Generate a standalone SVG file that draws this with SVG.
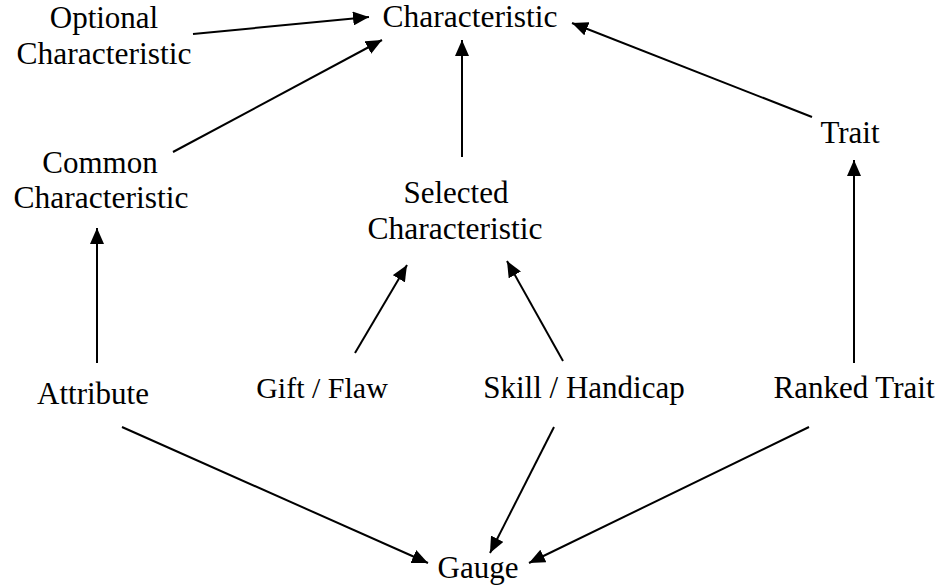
<svg xmlns="http://www.w3.org/2000/svg" width="942" height="586" viewBox="0 0 942 586">
<style>
.c line{stroke:#000;stroke-width:2;fill:none}
</style>
<defs>
<marker id="ah" viewBox="0 0 16 14" refX="16" refY="7" markerWidth="16" markerHeight="14" markerUnits="userSpaceOnUse" orient="auto">
<path d="M0,0 L16,7 L0,14 Z" fill="#000"/>
</marker>
</defs>
<rect width="942" height="586" fill="#fff"/>
<g id="characteristic"><text x="470" y="27" font-family="Liberation Serif" font-size="31.5" text-anchor="middle" fill="#000">Characteristic</text></g>
<g id="optional"><text x="104" y="28" font-family="Liberation Serif" font-size="31" text-anchor="middle" fill="#000">Optional</text><text x="104" y="64" font-family="Liberation Serif" font-size="31.5" text-anchor="middle" fill="#000">Characteristic</text></g>
<g id="common"><text x="100" y="173" font-family="Liberation Serif" font-size="31" text-anchor="middle" fill="#000">Common</text><text x="101" y="208" font-family="Liberation Serif" font-size="31.5" text-anchor="middle" fill="#000">Characteristic</text></g>
<g id="selected"><text x="456" y="203" font-family="Liberation Serif" font-size="31" text-anchor="middle" fill="#000">Selected</text><text x="455" y="239" font-family="Liberation Serif" font-size="31.5" text-anchor="middle" fill="#000">Characteristic</text></g>
<g id="trait"><text x="850" y="143" font-family="Liberation Serif" font-size="31" text-anchor="middle" fill="#000">Trait</text></g>
<g id="attribute"><text x="93" y="404" font-family="Liberation Serif" font-size="31" text-anchor="middle" fill="#000">Attribute</text></g>
<g id="gift"><text x="322" y="398" font-family="Liberation Serif" font-size="30" text-anchor="middle" fill="#000">Gift / Flaw</text></g>
<g id="skill"><text x="584" y="398" font-family="Liberation Serif" font-size="31" text-anchor="middle" fill="#000">Skill / Handicap</text></g>
<g id="ranked"><text x="854" y="398" font-family="Liberation Serif" font-size="31" text-anchor="middle" fill="#000">Ranked Trait</text></g>
<g id="gauge"><text x="478" y="578" font-family="Liberation Serif" font-size="31" text-anchor="middle" fill="#000">Gauge</text></g>
<g class="c" id="connectors">
<line x1="193" y1="34" x2="369" y2="17" marker-end="url(#ah)"/>
<line x1="173" y1="152" x2="382" y2="40" marker-end="url(#ah)"/>
<line x1="462" y1="157" x2="462" y2="40" marker-end="url(#ah)"/>
<line x1="812" y1="117" x2="572" y2="23" marker-end="url(#ah)"/>
<line x1="854" y1="363" x2="854" y2="160" marker-end="url(#ah)"/>
<line x1="97" y1="363" x2="97" y2="228" marker-end="url(#ah)"/>
<line x1="355" y1="353" x2="407" y2="265" marker-end="url(#ah)"/>
<line x1="563" y1="361" x2="507" y2="261" marker-end="url(#ah)"/>
<line x1="122" y1="427" x2="428" y2="563" marker-end="url(#ah)"/>
<line x1="554" y1="427" x2="490" y2="553" marker-end="url(#ah)"/>
<line x1="809" y1="427" x2="529" y2="563" marker-end="url(#ah)"/>
</g>
</svg>
